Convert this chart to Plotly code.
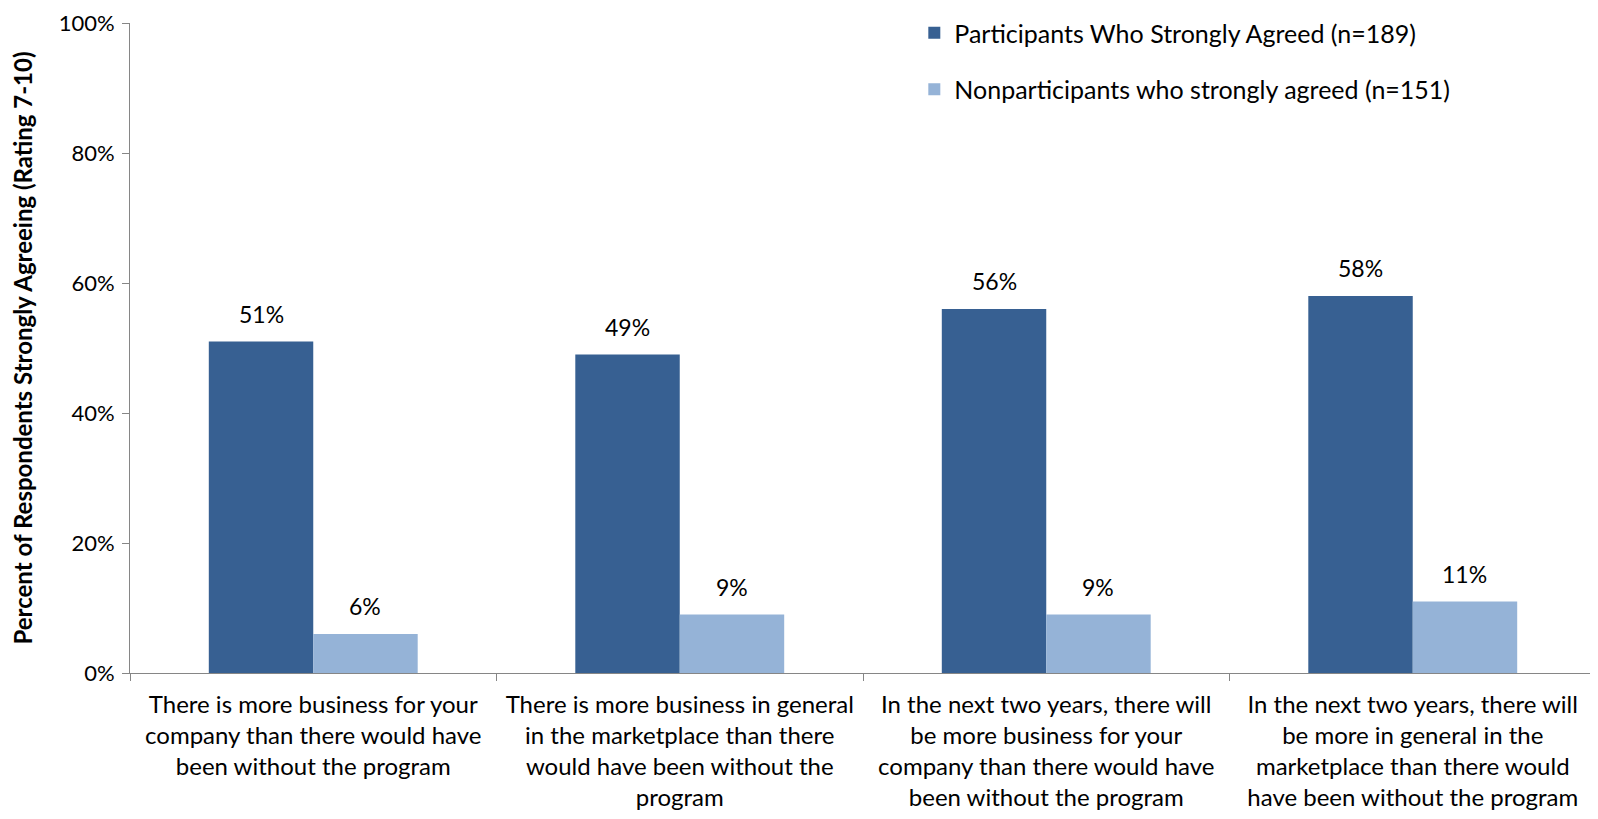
import plotly.graph_objects as go

categories = [
    "There is more business for your<br>company than there would have<br>been without the program",
    "There is more business in general<br>in the marketplace than there<br>would have been without the<br>program",
    "In the next two years, there will<br>be more business for your<br>company than there would have<br>been without the program",
    "In the next two years, there will<br>be more in general in the<br>marketplace than there would<br>have been without the program",
]
participants = [51, 49, 56, 58]
nonparticipants = [6, 9, 9, 11]
series_names = ["Participants Who Strongly Agreed (n=189)", "Nonparticipants who strongly agreed (n=151)"]
y_ticks = [0, 20, 40, 60, 80, 100]

FONT = "Lato, 'Open Sans', sans-serif"
colors = ["#376092", "#95B3D7"]

fig = go.Figure()
for i, (vals, name) in enumerate(zip([participants, nonparticipants], series_names)):
    fig.add_trace(go.Bar(
        x=categories, y=vals, name=name,
        marker=dict(color=colors[i], line=dict(width=0)),
        legendgroup=f"g{i}",
    ))

W, H = 1590, 811
ml, mr, mt, mb = 122, 2, 12, 146
plot_w = W - ml - mr
bar_w = plot_w / len(categories) * (1 - 0.43) / 2

for i, vals in enumerate([participants, nonparticipants]):
    shift = (-0.5 if i == 0 else 0.5) * bar_w
    for c, v in zip(categories, vals):
        fig.add_annotation(
            x=c, y=v, xref="x", yref="y", text=f"{v}%", showarrow=False,
            xshift=shift, yshift=12, yanchor="bottom",
            font=dict(size=23, color="black", family=FONT),
        )

fig.update_layout(
    width=W, height=H,
    paper_bgcolor="white", plot_bgcolor="white",
    barmode="group", bargap=0.43, bargroupgap=0,
    margin=dict(l=ml, r=mr, t=mt, b=mb),
    font=dict(family=FONT, size=20, color="black"),
    showlegend=True,
    legend=dict(
        x=0.535, y=1.02, xanchor="left", yanchor="top",
        font=dict(size=25, color="black", family=FONT),
        traceorder="grouped", tracegroupgap=21,
        bgcolor="rgba(0,0,0,0)",
    ),
    xaxis=dict(
        type="category", automargin=False,
        showline=True, linecolor="#868686", linewidth=1,
        ticks="outside", tickson="boundaries", ticklen=7, tickcolor="#868686",
        tickfont=dict(size=24, family=FONT, color="black"),
        ticklabelstandoff=10,
        showgrid=False,
    ),
    yaxis=dict(
        range=[0, 100], tickvals=y_ticks, ticktext=[f"{v}%" for v in y_ticks],
        automargin=False,
        showline=True, linecolor="#868686", linewidth=1,
        ticks="outside", ticklen=7, tickcolor="#868686",
        tickfont=dict(size=22, family=FONT, color="black"),
        ticklabelstandoff=3,
        showgrid=False, zeroline=False,
        title=dict(text="<b>Percent of Respondents Strongly Agreeing (Rating 7-10)</b>",
                   font=dict(size=24, family=FONT, color="black"), standoff=24),
    ),
)

fig.write_html("out.html")
